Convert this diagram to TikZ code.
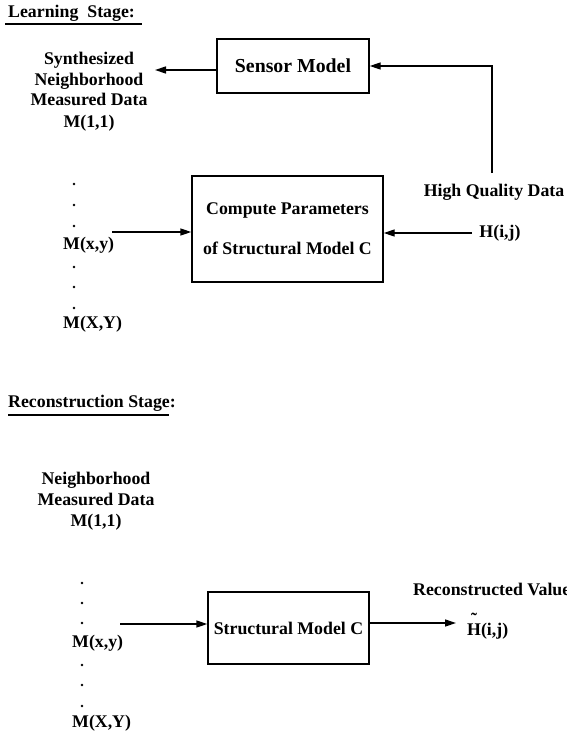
\documentclass[tikz,border=0pt]{standalone}
\usepackage{fontspec}
\setmainfont{Liberation Serif}
\usetikzlibrary{arrows.meta}
\begin{document}
\begin{tikzpicture}[x=1pt,y=-1pt,
  every node/.style={font=\fontsize{17.8}{20.5}\selectfont\bfseries, inner sep=0pt},
  boxnode/.style={draw, line width=1.4pt, inner sep=0pt},
  lbl/.style={align=center},
  dotnode/.style={circle, fill, minimum size=2.8pt, inner sep=0pt},
  arr/.style={line width=1.4pt, -{Triangle[length=11pt,width=7pt]}},
  conn/.style={line width=1.4pt},
  uline/.style={line width=2pt}]
\useasboundingbox (0,0) rectangle (566,736);

% ---------------- Learning stage ----------------
\node[anchor=west] (learn) at (8,13) {Learning\hspace{9pt}Stage:};
\coordinate (lu1) at (5,24);
\coordinate (lu2) at (142,24);
\draw[uline] (lu1) -- (lu2);

\node[boxnode, minimum width=152pt, minimum height=54pt,
      font=\fontsize{19.8}{22}\selectfont\bfseries] (sensor) at (293,66) {Sensor Model};

\node[lbl] (synth) at (89,92) {Synthesized\\Neighborhood\\Measured Data\\[1.5pt]M(1,1)};
\coordinate (synthin) at (155,70);
\draw[arr] (sensor.west |- synthin) -- (synthin);

\node (hq) at (494,192) {High Quality Data};
\coordinate (hqtop) at (492,173);
\draw[arr] (hqtop) |- (sensor.east);

\node[boxnode, minimum width=191pt, minimum height=106pt, align=center] (compute) at (287.5,229)
  {Compute Parameters\\[19.5pt]of Structural Model C};

\node (hij) at (500,233) {H(i,j)};
\coordinate (hijout) at (472,233);
\draw[arr] (hijout) -- (hijout -| compute.east);

\node[dotnode] (d1) at (74,184) {};
\node[dotnode] (d2) at (74,205) {};
\node[dotnode] (d3) at (74,226) {};
\node[anchor=west] (mxy) at (63,245) {M(x,y)};
\node[dotnode] (d4) at (74,267) {};
\node[dotnode] (d5) at (74,287) {};
\node[dotnode] (d6) at (74,308) {};
\node[anchor=west] (mXY) at (63,324) {M(X,Y)};
\coordinate (mxyout) at (112,232);
\draw[arr] (mxyout) -- (mxyout -| compute.west);

% ---------------- Reconstruction stage ----------------
\node[anchor=west] (recon) at (8,403) {Reconstruction Stage:};
\coordinate (ru1) at (8,415);
\coordinate (ru2) at (169,415);
\draw[uline] (ru1) -- (ru2);

\node[lbl] (neigh) at (96,501) {Neighborhood\\Measured Data\\[0.5pt]M(1,1)};

\node[dotnode] (e1) at (82,583) {};
\node[dotnode] (e2) at (82,603) {};
\node[dotnode] (e3) at (82,623) {};
\node[anchor=west] (nxy) at (72,643) {M(x,y)};
\node[dotnode] (e4) at (82,665) {};
\node[dotnode] (e5) at (82,685) {};
\node[dotnode] (e6) at (82,706) {};
\node[anchor=west] (nXY) at (72,723) {M(X,Y)};

\node[boxnode, minimum width=161pt, minimum height=72pt] (struct) at (288.5,628) {Structural Model C};
\coordinate (rin) at (120,624);
\draw[arr] (rin) -- (rin -| struct.west);

\node[anchor=west] (rv) at (413,589) {Reconstructed Value};
\node[anchor=west] (ht) at (467,626) {\rlap{\makebox[13.85pt][c]{\raisebox{9.5pt}{\char"02DC}}}H(i,j)};
\coordinate (rvin) at (456,623);
\draw[arr] (struct.east |- rvin) -- (rvin);
\end{tikzpicture}
\end{document}
